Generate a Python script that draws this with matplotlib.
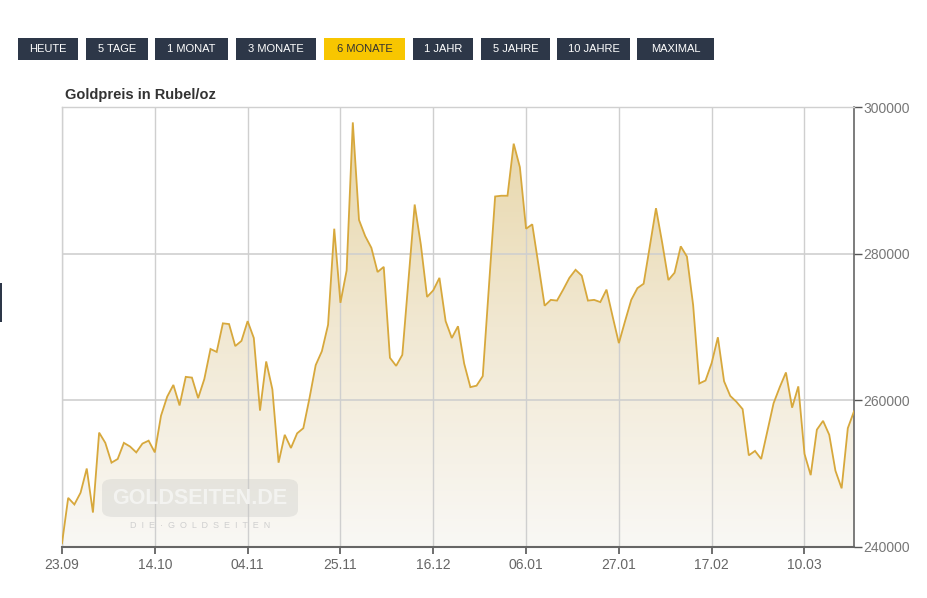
import numpy as np
import matplotlib
matplotlib.use('Agg')
import matplotlib.pyplot as plt
import matplotlib.patches as patches
from matplotlib.colors import LinearSegmentedColormap

# data: gold price in rubles per ounce, one value per weekday from 23.09
prices = [240500, 246700, 245800, 247400, 250700, 244700, 255600, 254200, 251500, 252000,
          254200, 253700, 252900, 254100, 254500, 252900, 257900, 260500, 262100, 259300,
          263200, 263100, 260300, 262900, 267000, 266600, 270500, 270400, 267400, 268100,
          270800, 268500, 258600, 265300, 261500, 251500, 255300, 253500, 255500, 256200,
          260300, 264800, 266700, 270300, 283400, 273300, 277700, 297900, 284600, 282400,
          280800, 277500, 278200, 265800, 264700, 266200, 276500, 286700, 281200, 274100,
          275000, 276700, 270800, 268500, 270100, 265000, 261800, 262000, 263300, 275500,
          287800, 287900, 287900, 295000, 291800, 283400, 284000, 278500, 272900, 273700,
          273600, 275100, 276700, 277800, 277000, 273600, 273700, 273400, 275100, 271400,
          267800, 270800, 273700, 275300, 275900, 281000, 286200, 281500, 276400, 277400,
          281000, 279600, 273000, 262300, 262700, 265100, 268600, 262600, 260600, 259800,
          258800, 252500, 253100, 252000, 255800, 259600, 261800, 263800, 259000, 261900,
          252700, 249800, 256000, 257200, 255300, 250400, 248000, 256200, 258500]

tick_labels = ['23.09', '14.10', '04.11', '25.11', '16.12', '06.01', '27.01', '17.02', '10.03']
tick_step = 15   # three weeks of weekdays
y_ticks = [240000, 260000, 280000, 300000]

buttons = ['HEUTE', '5 TAGE', '1 MONAT', '3 MONATE', '6 MONATE', '1 JAHR', '5 JAHRE', '10 JAHRE', 'MAXIMAL']
active = '6 MONATE'

W, H = 928, 598
sans = ['Liberation Sans', 'DejaVu Sans']

fig = plt.figure(figsize=(W / 100, H / 100), dpi=100)
fig.patch.set_facecolor('white')

def px(x0, y0):   # pixel -> figure fraction
    return x0 / W, 1 - y0 / H

# chart area in pixel coords
left, right, top, bottom = 62, 854, 107, 547
ax = fig.add_axes([left / W, 1 - bottom / H, (right - left) / W, (bottom - top) / H])
ax.set_facecolor('white')

x = np.arange(len(prices))
y = np.array(prices)
ymin, ymax = y_ticks[0], y_ticks[-1]

# gradient fill below the line
cmap = LinearSegmentedColormap.from_list('gold', ['#f9f8f5', '#f1e8d2', '#e7d5a6'])
grad = np.linspace(0, 1, 256).reshape(-1, 1)
im = ax.imshow(grad, extent=[0, 128, ymin, ymax], origin='lower', aspect='auto',
               cmap=cmap, zorder=1, interpolation='bicubic')
poly = ax.fill_between(x, y, ymin, color='none', lw=0)
clip = patches.PathPatch(poly.get_paths()[0], transform=ax.transData, facecolor='none', edgecolor='none')
ax.add_patch(clip)
im.set_clip_path(clip)

ax.plot(x, y, color='#d7a83c', lw=1.3, zorder=5, solid_joinstyle='miter')

ax.set_xlim(0, 128)
ax.set_ylim(ymin, ymax)

# grid
for i in range(len(tick_labels)):
    ax.axvline(i * tick_step, color='#cfcfcf', lw=1, zorder=2)
for v in y_ticks[1:]:
    ax.axhline(v, color='#cfcfcf', lw=1.2, zorder=2)

ax.set_xticks([i * tick_step for i in range(len(tick_labels))])
ax.set_xticklabels(tick_labels, family=sans, fontsize=10, color='#666666')
ax.yaxis.tick_right()
ax.set_yticks(y_ticks)
ax.set_yticklabels([str(v) for v in y_ticks], family=sans, fontsize=10, color='#777777')
ax.tick_params(axis='x', direction='out', length=5, width=1.2, color='#555555', pad=3)
ax.tick_params(axis='y', direction='out', length=6, width=1, color='#555555', pad=1)

for s in ['top', 'left']:
    ax.spines[s].set_color('#d0d0d0')
    ax.spines[s].set_linewidth(1)
ax.spines['bottom'].set_color('#666666')
ax.spines['bottom'].set_linewidth(1.5)
ax.spines['right'].set_color('#666666')
ax.spines['right'].set_linewidth(1.2)

# watermark
wx0, wy0 = px(102, 517)
box = patches.FancyBboxPatch((wx0, wy0), 196 / W, 38 / H, transform=fig.transFigure,
                             boxstyle='round,pad=0,rounding_size=0.012', facecolor='#c9c9c6',
                             edgecolor='none', alpha=0.35, zorder=4)
fig.add_artist(box)
fig.text(*px(200, 498), 'GOLDSEITEN.DE', ha='center', va='center', family=sans,
         fontsize=15.5, fontweight='bold', color='#f4f4f2', alpha=0.95, zorder=4)
fig.text(*px(200, 525), 'D  I  E  ·  G  O  L  D  S  E  I  T  E  N', ha='center', va='center',
         family=sans, fontsize=6.5, color='#cfcfcf', zorder=4)

# title
fig.text(*px(65, 95), 'Goldpreis in Rubel/oz', ha='left', va='center',
         family=sans, fontsize=10.5, fontweight='bold', color='#333333')

# range buttons
btn_x = [(18, 78), (86, 148), (155, 228), (236, 316), (324, 405), (413, 473), (481, 550), (557, 630), (637, 714)]
for label, (x0, x1) in zip(buttons, btn_x):
    is_on = label == active
    rect = patches.Rectangle(px(x0, 60), (x1 - x0) / W, 22 / H, transform=fig.transFigure,
                             facecolor='#f8c600' if is_on else '#2d3748', edgecolor='none')
    fig.add_artist(rect)
    fig.text((x0 + x1) / 2 / W, 1 - 49 / H, label, ha='center', va='center', family=sans,
             fontsize=8, color='#333333' if is_on else 'white')

# small page element at the left border
fig.add_artist(patches.Rectangle(px(0, 322), 2 / W, 39 / H, transform=fig.transFigure,
                                 facecolor='#2d3748', edgecolor='none'))

fig.savefig('out.png', dpi=100)
